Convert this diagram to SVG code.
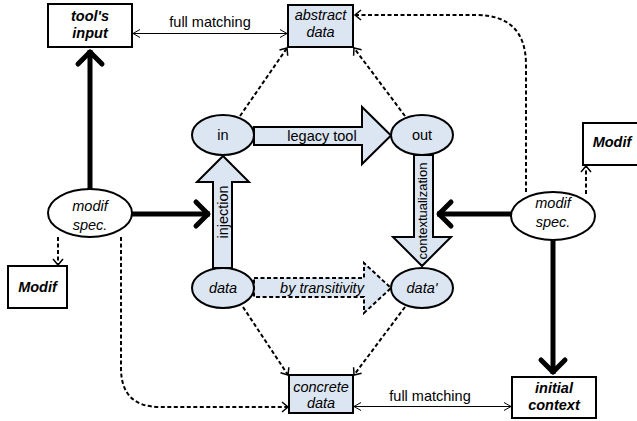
<svg xmlns="http://www.w3.org/2000/svg" width="637" height="421" viewBox="0 0 637 421">
<style>
text{font-family:"Liberation Sans",Arial,sans-serif;font-size:14.5px;fill:#000;text-anchor:middle}
.bi{font-weight:bold;font-style:italic}
.it{font-style:italic}
.box{fill:#fff;stroke:#000;stroke-width:2}
.bbox{fill:#dce6f2;stroke:#000;stroke-width:2}
.ell{fill:#fff;stroke:#000;stroke-width:2}
.bell{fill:#dce6f2;stroke:#000;stroke-width:2}
.thick{fill:none;stroke:#000;stroke-width:5}
.thin{fill:none;stroke:#000;stroke-width:1}
.dash{fill:none;stroke:#000;stroke-width:2;stroke-dasharray:4 2.5}
.blk{fill:#dce6f2;stroke:#000;stroke-width:2;stroke-linejoin:miter}
.blkd{fill:#dce6f2;stroke:#000;stroke-width:2;stroke-dasharray:4 2.5}
</style>
<defs>
<marker id="mt" markerUnits="userSpaceOnUse" viewBox="-20 -20 40 40" markerWidth="40" markerHeight="40" refX="2" refY="0" orient="auto" overflow="visible">
<path d="M-12,-12 L0,0 L-12,12" fill="none" stroke="#000" stroke-width="5" stroke-linecap="round" stroke-linejoin="round"/>
</marker>
<marker id="ms" markerUnits="userSpaceOnUse" viewBox="-20 -20 40 40" markerWidth="40" markerHeight="40" refX="0" refY="0" orient="auto-start-reverse" overflow="visible">
<path d="M-7,-4 L0,0 L-7,4" fill="none" stroke="#000" stroke-width="1"/>
</marker>
<marker id="md" markerUnits="userSpaceOnUse" viewBox="-20 -20 40 40" markerWidth="40" markerHeight="40" refX="0" refY="0" orient="auto" overflow="visible">
<path d="M-6,-5 L0,0 L-6,5" fill="none" stroke="#000" stroke-width="1.5"/>
</marker>
</defs>
<rect width="637" height="421" fill="#fff"/>
<g id="connectors">
<path class="blk" d="M254,127 L362,127 L362,107 L391,135.5 L362,164 L362,145 L254,145 Z"/>
<text x="322" y="141">legacy tool</text>
<path class="blkd" d="M254,278 L364,278 L364,263 L391,288 L364,313 L364,297 L254,297 Z"/>
<text class="it" x="322" y="293">by transitivity</text>
<path class="blk" d="M213,268 L213,182 L197,182 L223,156 L249,182 L232,182 L232,268 Z"/>
<text transform="translate(228,212) rotate(-90)">injection</text>
<path class="blk" d="M414,155 L414,237 L393,237 L422,266 L451,237 L433,237 L433,155 Z"/>
<text transform="translate(427,211) rotate(-90)" style="font-size:13px">contextualization</text>
<line class="thin" x1="133" y1="33.5" x2="287" y2="33.5" marker-start="url(#ms)" marker-end="url(#ms)"/>
<text x="210" y="27">full matching</text>
<line class="thin" x1="354" y1="406.5" x2="511" y2="406.5" marker-start="url(#ms)" marker-end="url(#ms)"/>
<text x="430" y="401">full matching</text>
<line class="thick" x1="90" y1="189" x2="90" y2="50" marker-end="url(#mt)"/>
<line class="thick" x1="132" y1="214" x2="210" y2="214" marker-end="url(#mt)"/>
<line class="thick" x1="511" y1="214" x2="437" y2="214" marker-end="url(#mt)"/>
<line class="thick" x1="553" y1="240" x2="553" y2="374" marker-end="url(#mt)"/>
<path class="dash" d="M526,192 L526,65 Q526,15 476,15 L355,15" marker-end="url(#md)"/>
<path class="dash" d="M121,237 L121,368 Q121,407 160,407 L288,407" marker-end="url(#md)"/>
<path class="dash" d="M58,237 L58,265" marker-end="url(#md)"/>
<path class="dash" d="M586,194 L586,166" marker-end="url(#md)"/>
<path class="dash" d="M240,116 L287,48" marker-end="url(#md)"/>
<path class="dash" d="M405,116 L354,48" marker-end="url(#md)"/>
<path class="dash" d="M243,307 L288,375" marker-end="url(#md)"/>
<path class="dash" d="M405,307 L354,375" marker-end="url(#md)"/>
</g>
<g id="tools-input"><rect class="box" x="48" y="4" width="84" height="43"/><text class="bi" x="90" y="21">tool's</text><text class="bi" x="90" y="38">input</text></g>
<g id="abstract-data"><rect class="bbox" x="288" y="5" width="65" height="42"/><text class="it" x="320.5" y="20">abstract</text><text class="it" x="320.5" y="37">data</text></g>
<g id="concrete-data"><rect class="bbox" x="289" y="375" width="64" height="38"/><text class="it" x="321" y="392">concrete</text><text class="it" x="321" y="408">data</text></g>
<g id="initial-context"><rect class="box" x="512" y="377" width="84" height="41"/><text class="bi" x="554" y="393">initial</text><text class="bi" x="554" y="410">context</text></g>
<g id="modif-left"><rect class="box" x="8" y="266" width="59" height="42"/><text class="bi" x="37.5" y="292">Modif</text></g>
<g id="modif-right"><rect class="box" x="583" y="123" width="58" height="42"/><text class="bi" x="612" y="147">Modif</text></g>
<g id="modif-spec-left"><ellipse class="ell" cx="90" cy="213" rx="42" ry="24"/><text class="it" x="90" y="211">modif</text><text class="it" x="90" y="230">spec.</text></g>
<g id="modif-spec-right"><ellipse class="ell" cx="553" cy="216" rx="42" ry="24"/><text class="it" x="553" y="208">modif</text><text class="it" x="553" y="227">spec.</text></g>
<g id="in"><ellipse class="bell" cx="223" cy="135" rx="31" ry="20"/><text x="223" y="140">in</text></g>
<g id="out"><ellipse class="bell" cx="422" cy="135" rx="31" ry="20"/><text x="422" y="140">out</text></g>
<g id="data"><ellipse class="bell" cx="223" cy="288" rx="31" ry="20"/><text class="it" x="223" y="293">data</text></g>
<g id="data-prime"><ellipse class="bell" cx="422" cy="288" rx="31" ry="20"/><text class="it" x="422" y="293">data'</text></g>
</svg>
